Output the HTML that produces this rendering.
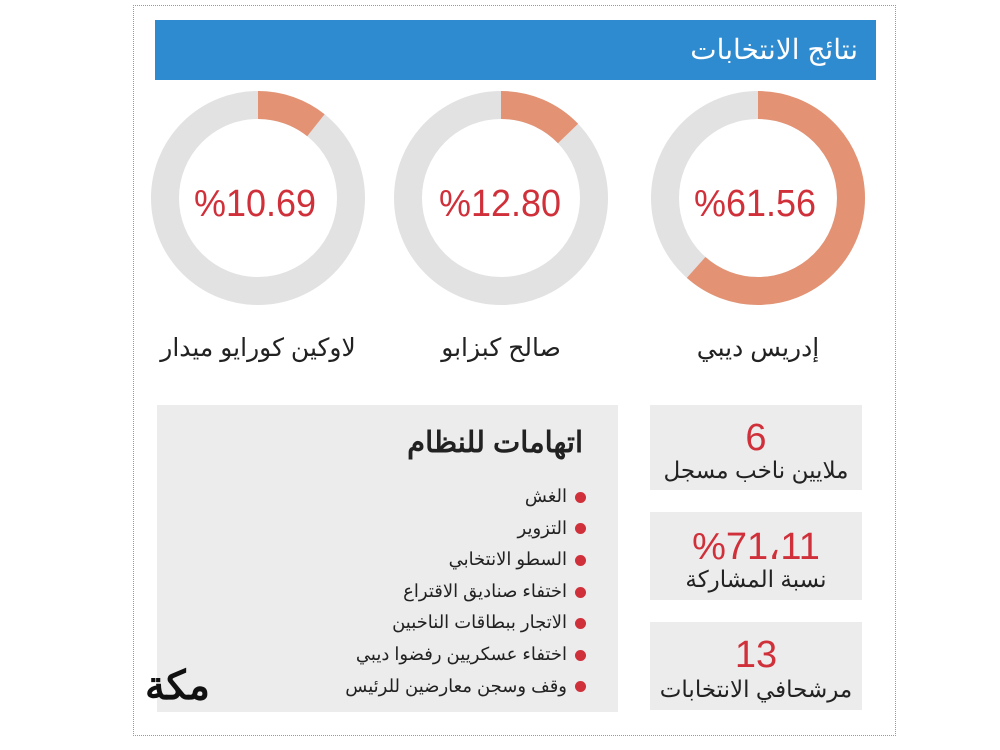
<!DOCTYPE html>
<html><head><meta charset="utf-8"><style>
body{margin:0;width:1000px;height:750px;background:#fff;font-family:"Liberation Sans","Noto Sans CJK SC",sans-serif;position:relative;overflow:hidden}
.frame{position:absolute;left:133px;top:5px;width:761px;height:729px;border:1px dotted #999}
.hdr{position:absolute;left:155px;top:20px;width:721px;height:60px;background:#2f8bd0}
.hdr span{position:absolute;right:18px;top:13px;color:#fff;font-size:28px;direction:rtl}
.name{position:absolute;top:333px;width:260px;text-align:center;font-size:25px;color:#222;direction:rtl;white-space:nowrap}
.box{position:absolute;background:#ececec}
.num{position:absolute;width:100%;text-align:center;color:#d0303a;font-size:38px}
.lab{position:absolute;width:100%;text-align:center;color:#222;font-size:23px;direction:rtl;white-space:nowrap}
ul{position:absolute;right:32px;top:76px;margin:0;padding:0;list-style:none;direction:rtl}
li{font-size:18px;color:#222;height:31.6px;line-height:31.6px;white-space:nowrap}
li:before{content:"";display:inline-block;width:11px;height:11px;border-radius:50%;background:#d0303a;margin-left:8px;vertical-align:middle}
</style></head><body>
<div class="frame"></div>
<div class="hdr"><span>نتائج الانتخابات</span></div>
<svg width="1000" height="750" style="position:absolute;left:0;top:0">
<g fill="none" stroke-width="28">
<circle cx="758" cy="198" r="93" stroke="#e2e2e3"/>
<circle cx="758" cy="198" r="93" stroke="#e39374" stroke-dasharray="359.7 600" transform="rotate(-90 758 198)"/>
<circle cx="501" cy="198" r="93" stroke="#e2e2e3"/>
<circle cx="501" cy="198" r="93" stroke="#e39374" stroke-dasharray="74.8 600" transform="rotate(-90 501 198)"/>
<circle cx="258" cy="198" r="93" stroke="#e2e2e3"/>
<circle cx="258" cy="198" r="93" stroke="#e39374" stroke-dasharray="62.5 600" transform="rotate(-90 258 198)"/>
</g>
<g fill="#d0303a" font-size="38" text-anchor="middle" font-family="Liberation Sans,sans-serif">
<text x="755" y="216" textLength="122" lengthAdjust="spacingAndGlyphs">%61.56</text>
<text x="500" y="216" textLength="122" lengthAdjust="spacingAndGlyphs">%12.80</text>
<text x="255" y="216" textLength="122" lengthAdjust="spacingAndGlyphs">%10.69</text>
</g>
</svg>
<div class="name" style="left:628px">إدريس ديبي</div>
<div class="name" style="left:371px">صالح كبزابو</div>
<div class="name" style="left:128px">لاوكين كورايو ميدار</div>
<div class="box" style="left:157px;top:405px;width:461px;height:307px">
<div style="position:absolute;right:35px;top:20px;font-size:29px;font-weight:bold;color:#222;direction:rtl">اتهامات للنظام</div>
<ul><li>الغش</li><li>التزوير</li><li>السطو الانتخابي</li><li>اختفاء صناديق الاقتراع</li><li>الاتجار ببطاقات الناخبين</li><li>اختفاء عسكريين رفضوا ديبي</li><li>وقف وسجن معارضين للرئيس</li></ul>
<div style="position:absolute;left:-12px;top:258px;font-size:40px;font-weight:bold;color:#111">مكة</div>
</div>
<div class="box" style="left:650px;top:405px;width:212px;height:85px"><div class="num" style="top:12px">6</div><div class="lab" style="top:52px">ملايين ناخب مسجل</div></div>
<div class="box" style="left:650px;top:512px;width:212px;height:88px"><div class="num" style="top:12px">%71،11</div><div class="lab" style="top:54px">نسبة المشاركة</div></div>
<div class="box" style="left:650px;top:622px;width:212px;height:88px"><div class="num" style="top:12px">13</div><div class="lab" style="top:54px">مرشحافي الانتخابات</div></div>
</body></html>
